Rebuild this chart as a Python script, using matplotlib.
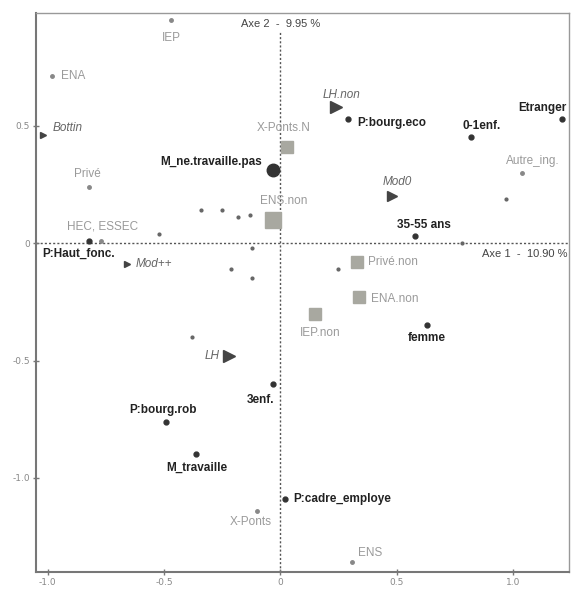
import matplotlib.pyplot as plt
from matplotlib.ticker import FuncFormatter

# active modalities (black, bold)
act_names = ["M_ne.travaille.pas", "P:bourg.eco", "0-1enf.", "Etranger", "35-55 ans",
             "femme", "P:Haut_fonc.", "3enf.", "P:bourg.rob", "M_travaille", "P:cadre_employe"]
act_x = [-0.03, 0.29, 0.82, 1.21, 0.58, 0.63, -0.82, -0.03, -0.49, -0.36, 0.02]
act_y = [0.31, 0.53, 0.45, 0.53, 0.03, -0.35, 0.01, -0.60, -0.76, -0.90, -1.09]
act_size = [9, 3.5, 3.5, 3.5, 3.5, 3.5, 3.5, 3.5, 3.5, 3.5, 3.5]
act_off = [(-11, 8, "right"), (10, -4, "left"), (11, 11, "center"), (5, 11, "right"),
           (9, 11, "center"), (0, -13, "center"), (-47, -13, "left"), (-13, -16, "center"),
           (-3, 12, "center"), (0, -13, "center"), (8, 0, "left")]

# schools (grey, small dots)
sch_names = ["IEP", "ENA", "Privé", "HEC, ESSEC", "Autre_ing.", "X-Ponts", "ENS"]
sch_x = [-0.47, -0.98, -0.82, -0.77, 1.04, -0.10, 0.31]
sch_y = [0.95, 0.71, 0.24, 0.01, 0.30, -1.14, -1.36]
sch_off = [(0, -18, "center"), (9, 0, "left"), (-2, 13, "center"), (1, 14, "center"),
           (11, 12, "center"), (-6, -11, "center"), (6, 9, "left")]

# schools "non" (grey squares)
sq_names = ["X-Ponts.N", "ENS.non", "Privé.non", "ENA.non", "IEP.non"]
sq_x = [0.03, -0.03, 0.33, 0.34, 0.15]
sq_y = [0.41, 0.10, -0.08, -0.23, -0.30]
sq_size = [9, 11, 8, 9, 8]
sq_off = [(-4, 19, "center"), (10, 19, "center"), (11, 0, "left"), (12, -2, "left"), (5, -19, "center")]

# supplementary (triangles, italic)
tri_names = ["Bottin", "LH.non", "Mod0", "Mod++", "LH"]
tri_x = [-1.02, 0.24, 0.48, -0.66, -0.22]
tri_y = [0.46, 0.58, 0.20, -0.09, -0.48]
tri_size = [5, 8, 7, 5, 8]
tri_off = [(10, 7, "left"), (5, 12, "center"), (5, 14, "center"), (9, 0, "left"), (-9, 0, "right")]

# unlabeled small points
dot_x = [-0.34, -0.25, -0.18, -0.13, -0.52, -0.12, -0.21, -0.12, -0.38, 0.25, 0.97, 0.78]
dot_y = [0.14, 0.14, 0.11, 0.12, 0.04, -0.02, -0.11, -0.15, -0.40, -0.11, 0.19, 0.0]

fam = ["Liberation Sans", "DejaVu Sans"]

fig = plt.figure(figsize=(5.71, 5.92), dpi=100)
ax = fig.add_axes([0.063, 0.034, 0.933, 0.944])
ax.set_xlim(-1.05, 1.24)
ax.set_ylim(-1.40, 0.98)

ax.axhline(0, color="#555555", linestyle=(0, (1.5, 1.5)), linewidth=1, zorder=1)
ax.plot([0, 0], [-1.40, 0.90], color="#555555", linestyle=(0, (1.5, 1.5)), linewidth=1, zorder=1)

ax.plot(dot_x, dot_y, "o", color="#666666", markersize=2, zorder=2)

for n, x, y, s, (dx, dy, ha) in zip(act_names, act_x, act_y, act_size, act_off):
    ax.plot(x, y, "o", color="#333333", markersize=s, zorder=3)
    ax.annotate(n, (x, y), xytext=(dx, dy), textcoords="offset pixels", ha=ha, va="center",
                fontsize=8.5, fontweight="bold", color="#222222", family=fam)

for n, x, y, (dx, dy, ha) in zip(sch_names, sch_x, sch_y, sch_off):
    ax.plot(x, y, "o", color="#888888", markersize=2.5, zorder=3)
    ax.annotate(n, (x, y), xytext=(dx, dy), textcoords="offset pixels", ha=ha, va="center",
                fontsize=8.5, color="#9a9a9a", family=fam)

for n, x, y, s, (dx, dy, ha) in zip(sq_names, sq_x, sq_y, sq_size, sq_off):
    ax.plot(x, y, "s", color="#a8a8a0", markersize=s, zorder=3)
    ax.annotate(n, (x, y), xytext=(dx, dy), textcoords="offset pixels", ha=ha, va="center",
                fontsize=8.5, color="#9a9a9a", family=fam)

for n, x, y, s, (dx, dy, ha) in zip(tri_names, tri_x, tri_y, tri_size, tri_off):
    ax.plot(x, y, ">", color="#444444", markersize=s, zorder=3)
    ax.annotate(n, (x, y), xytext=(dx, dy), textcoords="offset pixels", ha=ha, va="center",
                fontsize=8.5, style="italic", color="#666666", family=fam)

ax.text(0.0, 0.935, "Axe 2  -  9.95 %", ha="center", va="center", fontsize=8,
        color="#444444", family=fam, zorder=4)
ax.text(1.235, -0.045, "Axe 1  -  10.90 %", ha="right", va="center", fontsize=8,
        color="#444444", family=fam)

for s in ["left", "bottom"]:
    ax.spines[s].set_color("#777777")
    ax.spines[s].set_linewidth(1.5)
for s in ["top", "right"]:
    ax.spines[s].set_color("#999999")
    ax.spines[s].set_linewidth(1)

ax.set_xticks([-1.0, -0.5, 0, 0.5, 1.0])
ax.set_yticks([0.5, 0, -0.5, -1.0])
fmt = FuncFormatter(lambda v, p: "0" if abs(v) < 1e-9 else f"{v:.1f}")
ax.xaxis.set_major_formatter(fmt)
ax.yaxis.set_major_formatter(fmt)
ax.tick_params(direction="inout", length=5, width=1, color="#777777",
               labelsize=6.5, labelcolor="#888888", pad=2)

fig.savefig("out.png", dpi=100)
